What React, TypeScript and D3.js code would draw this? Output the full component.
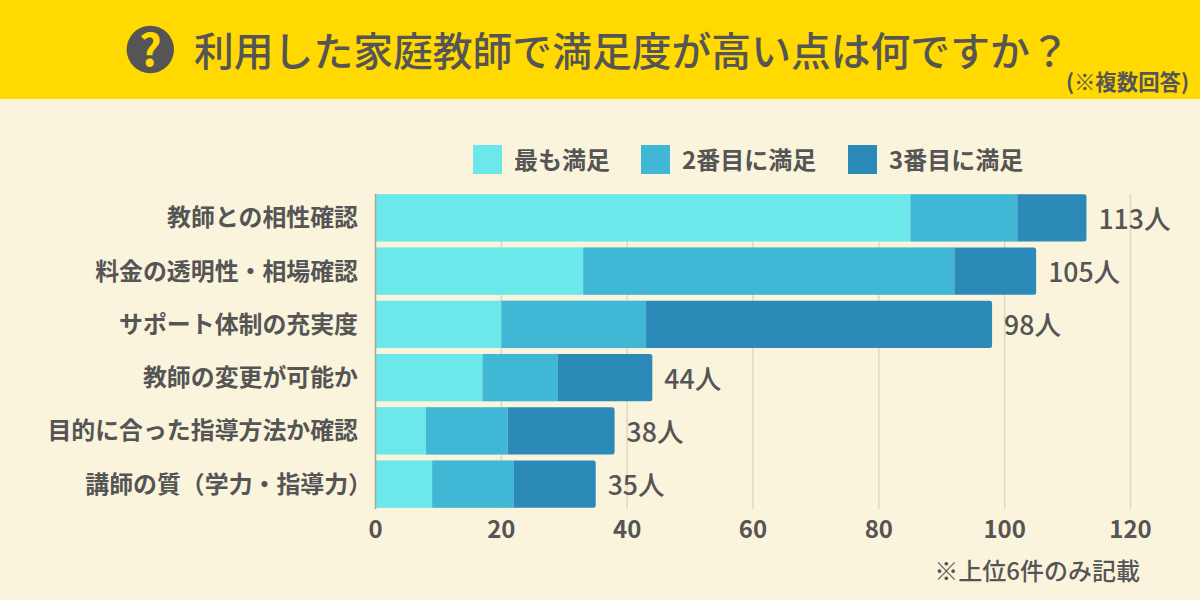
import React from 'react';
import * as d3 from 'd3';

const categories = [
  '教師との相性確認',
  '料金の透明性・相場確認',
  'サポート体制の充実度',
  '教師の変更が可能か',
  '目的に合った指導方法か確認',
  '講師の質（学力・指導力）',
];
const first = [85, 33, 20, 17, 8, 9];
const second = [17, 59, 23, 12, 13, 13];
const third = [11, 13, 55, 15, 17, 13];
const totals = [113, 105, 98, 44, 38, 35];
const seriesNames = ['最も満足', '2番目に満足', '3番目に満足'];
const seriesColors = ['#6ce7ea', '#41b7d6', '#2c8ab8'];
const xTicks = [0, 20, 40, 60, 80, 100, 120];

const FONT = '"Noto Sans CJK JP", "Noto Sans", sans-serif';
const TEXT = '#555555';

const rows = categories.map((name, i) => ({ name, a: first[i], b: second[i], c: third[i] }));
const stacked = d3.stack<any>().keys(['a', 'b', 'c'])(rows);

const x = d3.scaleLinear().domain([0, 120]).range([375.5, 1130.5]);
const y = d3.scaleBand().domain(categories).range([191.5, 510.5]).paddingInner(0.11).paddingOuter(0.05);

// only the outer end of the stack gets round corners
const roundedEnd = (x0: number, x1: number, y0: number, h: number, r = 2.5) => {
  const p = d3.path();
  p.moveTo(x0, y0);
  p.lineTo(x1 - r, y0);
  p.arcTo(x1, y0, x1, y0 + r, r);
  p.lineTo(x1, y0 + h - r);
  p.arcTo(x1, y0 + h, x1 - r, y0 + h, r);
  p.lineTo(x0, y0 + h);
  p.closePath();
  return p.toString();
};

const legendX = [473, 641, 848];

export default function App() {
  return (
    <svg width={1200} height={600} style={{ position: 'absolute', left: 0, top: 0 }} fontFamily={FONT}>
      <rect width={1200} height={600} fill="#fbf4dc" />
      <rect width={1200} height={99} fill="#ffd900" />

      <circle cx={150.3} cy={49.5} r={23.7} fill={TEXT} />
      <text x={150.3} y={65.5} textAnchor="middle" fontSize={44} fontWeight={700} fill="#ffd900">?</text>
      <text x={194} y={66} fontSize={39.8} fontWeight={500} fill={TEXT}>利用した家庭教師で満足度が高い点は何ですか？</text>
      <text x={1189} y={89.5} textAnchor="end" fontSize={21.4} fontWeight={700} fill={TEXT}>(※複数回答)</text>

      {seriesNames.map((name, i) => (
        <g key={name}>
          <rect x={legendX[i]} y={145} width={29} height={29} fill={seriesColors[i]} />
          <text x={legendX[i] + 41} y={168.5} fontSize={24} fontWeight={700} fill={TEXT}>{name}</text>
        </g>
      ))}

      {xTicks.filter(t => t > 0).map(t => (
        <line key={t} x1={x(t)} x2={x(t)} y1={194} y2={509} stroke="#ddd8c6" strokeWidth={1.5} />
      ))}

      {stacked.map((s, si) => (
        <g key={si} fill={seriesColors[si]}>
          {s.map((d, i) => {
            const y0 = y(categories[i])!;
            return si === 2
              ? <path key={i} d={roundedEnd(x(d[0]), x(d[1]), y0, y.bandwidth())} />
              : <rect key={i} x={x(d[0])} y={y0} width={x(d[1]) - x(d[0])} height={y.bandwidth()} />;
          })}
        </g>
      ))}

      <line x1={x(0)} x2={x(0)} y1={194} y2={509} stroke="#a8a596" strokeWidth={1.5} />

      {categories.map((c, i) => (
        // the full-width closing paren leaves blank space, so that label hangs further right
        <text key={c} x={c.endsWith('）') ? 372 : 358} y={y(c)! + y.bandwidth() / 2 + 8.5} textAnchor="end" fontSize={23.9} fontWeight={700} fill={TEXT}>{c}</text>
      ))}

      {totals.map((t, i) => (
        <text key={i} x={x(t) + 12} y={y(categories[i])! + y.bandwidth() / 2 + 11} fontSize={26.6} fontWeight={500} fill={TEXT}>{t}人</text>
      ))}

      {xTicks.map(t => (
        <text key={t} x={x(t)} y={538} textAnchor="middle" fontSize={24} fontWeight={700} fill={TEXT}>{t}</text>
      ))}

      <text x={1140} y={579.5} textAnchor="end" fontSize={24} fontWeight={500} fill={TEXT}>※上位6件のみ記載</text>
    </svg>
  );
}
